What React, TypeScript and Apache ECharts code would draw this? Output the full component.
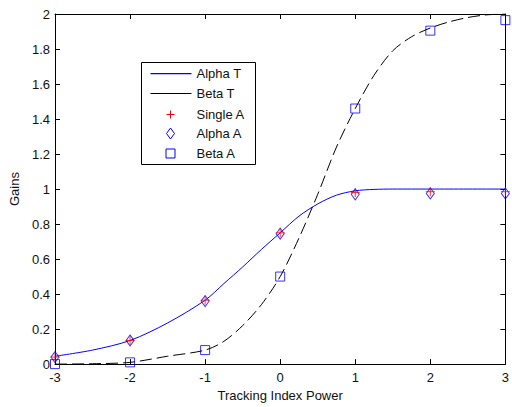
import React, { useEffect, useRef } from "react";
import * as echarts from "echarts";

const curveX = [-3, -2.5, -2, -1.5, -1, -0.75, -0.5, -0.25, 0, 0.25, 0.5, 0.75, 1, 1.25, 1.5, 1.75, 2, 2.25, 2.5, 2.75, 3];
const alphaT = [0.045, 0.08, 0.135, 0.235, 0.365, 0.46, 0.555, 0.655, 0.75, 0.845, 0.915, 0.965, 0.99, 0.998, 1, 1, 1, 1, 1, 1, 1];
const betaT = [0, 0.002, 0.01, 0.045, 0.08, 0.13, 0.22, 0.34, 0.5, 0.72, 0.97, 1.24, 1.46, 1.65, 1.79, 1.87, 1.92, 1.955, 1.98, 1.995, 2];

const markerX = [-3, -2, -1, 0, 1, 2, 3];
const singleA = [0.04, 0.135, 0.365, 0.75, 0.98, 0.985, 0.985];
const alphaA = [0.04, 0.135, 0.36, 0.745, 0.97, 0.975, 0.975];
const betaA = [0.0, 0.01, 0.08, 0.5, 1.46, 1.905, 1.965];

const legendNames = ["Alpha T", "Beta T", "Single A", "Alpha A", "Beta A"];

const FONT = "Liberation Sans, Arial, sans-serif";

export default function App() {
  const ref = useRef<HTMLDivElement>(null);
  useEffect(() => {
    document.body.style.margin = "0";
    const chart = echarts.init(ref.current!, null, { renderer: "svg" });
    const pair = (xs: number[], ys: number[]) => xs.map((x, i) => [x, ys[i]]);
    const axisCommon = {
      axisLine: { show: true, onZero: false, lineStyle: { color: "#000", width: 1 } },
      axisTick: { show: true, inside: true, length: 5, lineStyle: { color: "#000" } },
      splitLine: { show: false },
    };
    const legendY = [11, 31, 52, 71, 91];
    const legendChildren: any[] = [
      { type: "rect", shape: { x: 0, y: 0, width: 114, height: 102 }, style: { fill: "#fff", stroke: "#000", lineWidth: 1 } },
      { type: "rect", shape: { x: 9, y: legendY[0] - 0.5, width: 41, height: 1.2 }, style: { fill: "#0000ff", stroke: "none" } },
      { type: "rect", shape: { x: 9, y: legendY[1] - 0.5, width: 41, height: 1 }, style: { fill: "#000", stroke: "none" } },
      { type: "line", shape: { x1: 25, y1: legendY[2], x2: 33, y2: legendY[2] }, style: { stroke: "#ff0000", lineWidth: 1 } },
      { type: "line", shape: { x1: 29, y1: legendY[2] - 4, x2: 29, y2: legendY[2] + 4 }, style: { stroke: "#ff0000", lineWidth: 1 } },
      { type: "polygon", shape: { points: [[29, legendY[3] - 5.5], [33, legendY[3]], [29, legendY[3] + 5.5], [25, legendY[3]]] }, style: { fill: "none", stroke: "#0000ff", lineWidth: 1 } },
      { type: "rect", shape: { x: 24.5, y: legendY[4] - 4.5, width: 9, height: 9 }, style: { fill: "none", stroke: "#0000ff", lineWidth: 1 } },
    ];
    legendNames.forEach((n, i) => {
      legendChildren.push({
        type: "text",
        style: { text: n, x: 55, y: legendY[i], font: `13px ${FONT}`, fill: "#111", align: "left", verticalAlign: "middle" },
      });
    });

    chart.setOption({
      animation: false,
      backgroundColor: "#fff",
      textStyle: { fontFamily: FONT },
      grid: { left: 55, right: 4, top: 14, bottom: 37, containLabel: false },
      xAxis: [
        {
          type: "value", min: -3, max: 3, interval: 1, position: "bottom",
          name: "Tracking Index Power", nameLocation: "middle", nameGap: 24,
          nameTextStyle: { fontSize: 13, color: "#111", fontFamily: FONT },
          axisLabel: { fontSize: 13, color: "#111", margin: 7, fontFamily: FONT },
          ...axisCommon,
        },
        {
          type: "value", min: -3, max: 3, interval: 1, position: "top",
          axisLabel: { show: false }, ...axisCommon,
        },
      ],
      yAxis: [
        {
          type: "value", min: 0, max: 2, interval: 0.2, position: "left",
          name: "Gains", nameLocation: "middle", nameGap: 34, nameRotate: 90,
          nameTextStyle: { fontSize: 13, color: "#111", fontFamily: FONT },
          axisLabel: { fontSize: 13, color: "#111", margin: 5, fontFamily: FONT },
          ...axisCommon,
        },
        {
          type: "value", min: 0, max: 2, interval: 0.2, position: "right",
          axisLabel: { show: false }, ...axisCommon,
        },
      ],
      series: [
        {
          name: "Alpha T", type: "line", data: pair(curveX, alphaT), smooth: 0.3, showSymbol: false,
          lineStyle: { color: "#0000ff", width: 1 }, itemStyle: { color: "#0000ff" },
        },
        {
          name: "Beta T", type: "line", data: pair(curveX, betaT), smooth: 0.3, showSymbol: false,
          lineStyle: { color: "#000", width: 1, type: [12, 5] }, itemStyle: { color: "#000" },
        },
        {
          name: "Single A", type: "scatter", data: pair(markerX, singleA), clip: false,
          symbol: "path://M0,5 L10,5 M5,0 L5,10", symbolSize: 9,
          itemStyle: { color: "none", borderColor: "#ff0000", borderWidth: 1 }, z: 3,
        },
        {
          name: "Alpha A", type: "scatter", data: pair(markerX, alphaA), clip: false,
          symbol: "diamond", symbolSize: [8, 11],
          itemStyle: { color: "none", borderColor: "#0000ff", borderWidth: 1 }, z: 2,
        },
        {
          name: "Beta A", type: "scatter", data: pair(markerX, betaA), clip: false,
          symbol: "rect", symbolSize: 9,
          itemStyle: { color: "none", borderColor: "#0000ff", borderWidth: 1 }, z: 2,
        },
      ],
      graphic: [{ type: "group", left: 141, top: 62, z: 100, children: legendChildren }],
    });
    return () => chart.dispose();
  }, []);
  return <div ref={ref} style={{ width: 512, height: 407 }} />;
}
